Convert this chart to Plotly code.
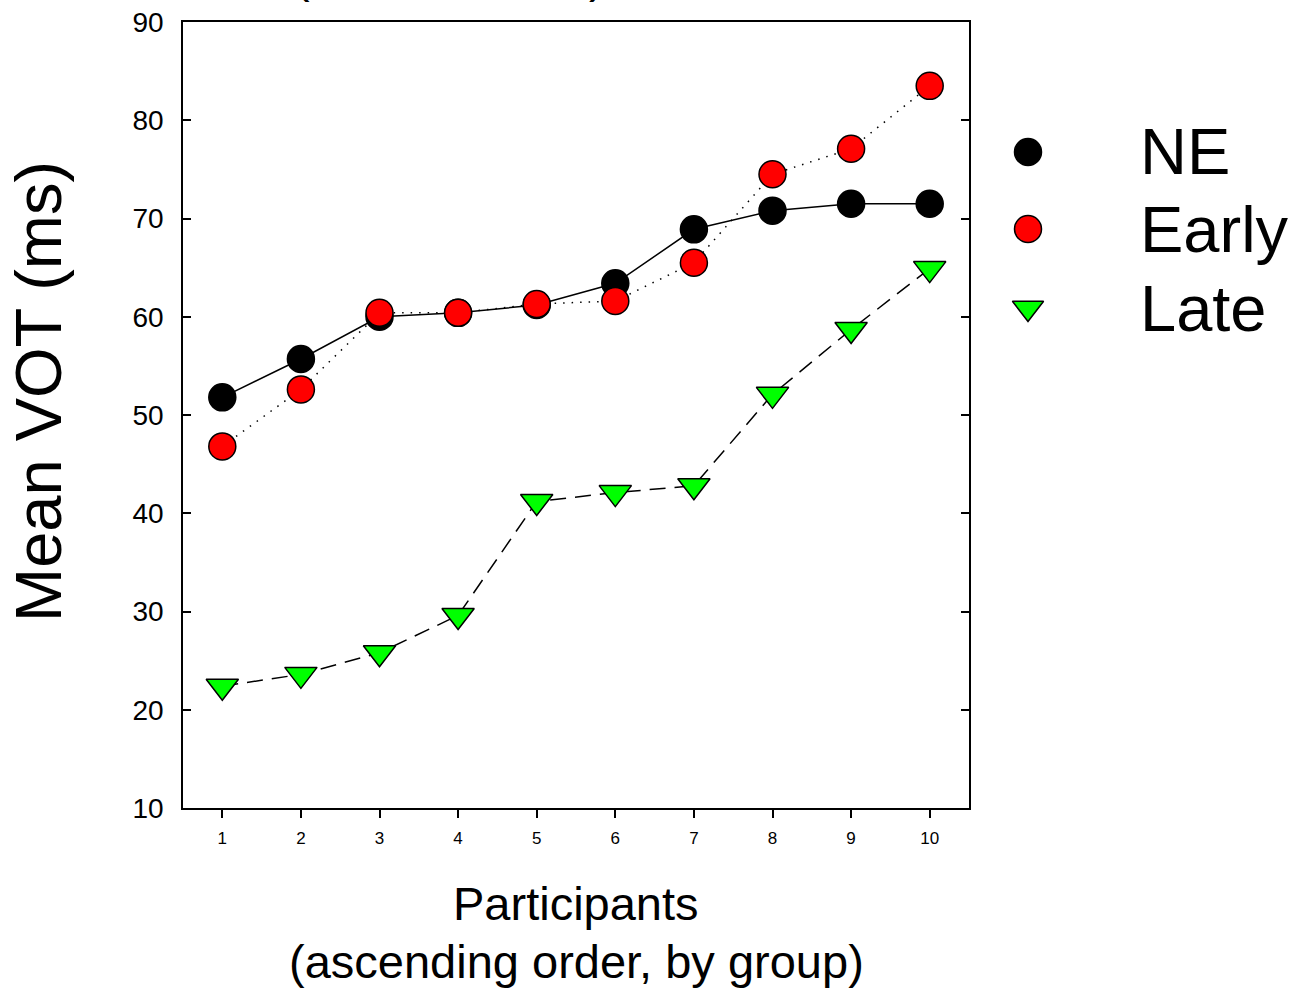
import plotly.graph_objects as go

# ---- data ----
participants = [1, 2, 3, 4, 5, 6, 7, 8, 9, 10]
ne_vot = [51.8, 55.7, 60.0, 60.4, 61.2, 63.4, 68.9, 70.8, 71.5, 71.5]
early_vot = [46.8, 52.6, 60.4, 60.4, 61.3, 61.6, 65.5, 74.5, 77.1, 83.5]
late_vot = [22.4, 23.6, 25.8, 29.6, 41.2, 42.1, 42.8, 52.1, 58.7, 64.9]
group_names = ["NE", "Early", "Late"]
y_ticks = [10, 20, 30, 40, 50, 60, 70, 80, 90]

W, H = 1295, 990
L, R, T, B = 183, 0, 22, 182
plot_w = W - L - R
plot_h = H - T - B
axis_right_px = 969

def px_x(p):
    return (p - L) / plot_w

def px_y(p):
    return (H - B - p) / plot_h

FONT = "Liberation Sans, Arial, sans-serif"

fig = go.Figure()

fig.add_trace(go.Scatter(
    x=participants, y=ne_vot, mode="lines+markers", name="NE",
    line=dict(color="black", width=1.5),
    marker=dict(symbol="circle", size=27, color="black",
                line=dict(color="black", width=1.5)),
    showlegend=False))
fig.add_trace(go.Scatter(
    x=participants, y=early_vot, mode="lines+markers", name="Early",
    line=dict(color="black", width=1.5, dash="1.5px,7px"),
    marker=dict(symbol="circle", size=27, color="#ff0000",
                line=dict(color="black", width=1.5)),
    showlegend=False))
fig.add_trace(go.Scatter(
    x=participants, y=late_vot, mode="lines+markers", name="Late",
    line=dict(color="black", width=1.5, dash="16px,9px"),
    marker=dict(symbol="triangle-down", size=28, color="#00ff00",
                line=dict(color="black", width=1.5)),
    showlegend=False))

# ---- custom legend on an overlay pixel axis ----
leg_x = 1028
leg_y = [152, 229, 308]
leg_colors = ["black", "#ff0000", "#00ff00"]
leg_symbols = ["circle", "circle", "triangle-down"]
leg_sizes = [27, 27, 27]
for name, yy, c, s, sz in zip(group_names, leg_y, leg_colors, leg_symbols, leg_sizes):
    fig.add_trace(go.Scatter(
        x=[leg_x], y=[yy], xaxis="x2", yaxis="y2", mode="markers",
        marker=dict(symbol=s, size=sz, color=c, line=dict(color="black", width=1.5)),
        showlegend=False, hoverinfo="skip"))
    fig.add_annotation(x=px_x(1138), y=px_y(yy), xref="paper", yref="paper",
                       text=name, showarrow=False, xanchor="left", yanchor="middle",
                       font=dict(family=FONT, size=65, color="black"))

fig.update_layout(
    width=W, height=H,
    margin=dict(l=L, r=R, t=T, b=B, pad=0),
    paper_bgcolor="white", plot_bgcolor="white",
    font=dict(family=FONT, color="black"),
    showlegend=False,
    xaxis=dict(domain=[0, (axis_right_px - L) / plot_w], range=[0.5, 10.5],
               tickvals=participants, ticktext=[str(p) for p in participants],
               ticks="outside", ticklen=8, tickwidth=1.5, tickcolor="black",
               showline=True, linewidth=1.5, linecolor="black", mirror=True,
               showgrid=False, zeroline=False,
               tickfont=dict(family=FONT, size=17, color="black"),
               ticklabelstandoff=6),
    yaxis=dict(range=[10, 90], tickvals=y_ticks,
               ticks="inside", ticklen=8, tickwidth=1.5, tickcolor="black",
               showline=True, linewidth=1.5, linecolor="black", mirror="ticks",
               showgrid=False, zeroline=False,
               tickfont=dict(family=FONT, size=28, color="black"),
               ticklabelstandoff=12),
    xaxis2=dict(domain=[px_x(990), 1.0], range=[990, 1295], visible=False,
                anchor="y2", fixedrange=True),
    yaxis2=dict(domain=[0, 1], range=[H - B, T], visible=False,
                anchor="x2", fixedrange=True),
)

# axis titles
fig.add_annotation(x=px_x(38), y=px_y(392), xref="paper", yref="paper",
                   text="Mean VOT (ms)", textangle=-90, showarrow=False,
                   xanchor="center", yanchor="middle",
                   font=dict(family=FONT, size=65, color="black"))
fig.add_annotation(x=px_x(576), y=px_y(903), xref="paper", yref="paper",
                   text="Participants", showarrow=False,
                   xanchor="center", yanchor="middle",
                   font=dict(family=FONT, size=47, color="black"))
fig.add_annotation(x=px_x(576), y=px_y(961), xref="paper", yref="paper",
                   text="(ascending order, by group)", showarrow=False,
                   xanchor="center", yanchor="middle",
                   font=dict(family=FONT, size=47, color="black"))

# fragments of a title cut off at the top edge (as in the reference)
for tx, xp in [("(", 302), (")", 597)]:
    fig.add_annotation(x=px_x(xp), y=px_y(4), xref="paper", yref="paper",
                       text=tx, showarrow=False, xanchor="center", yanchor="bottom",
                       font=dict(family=FONT, size=47, color="black"))

fig.write_html("out.html")
